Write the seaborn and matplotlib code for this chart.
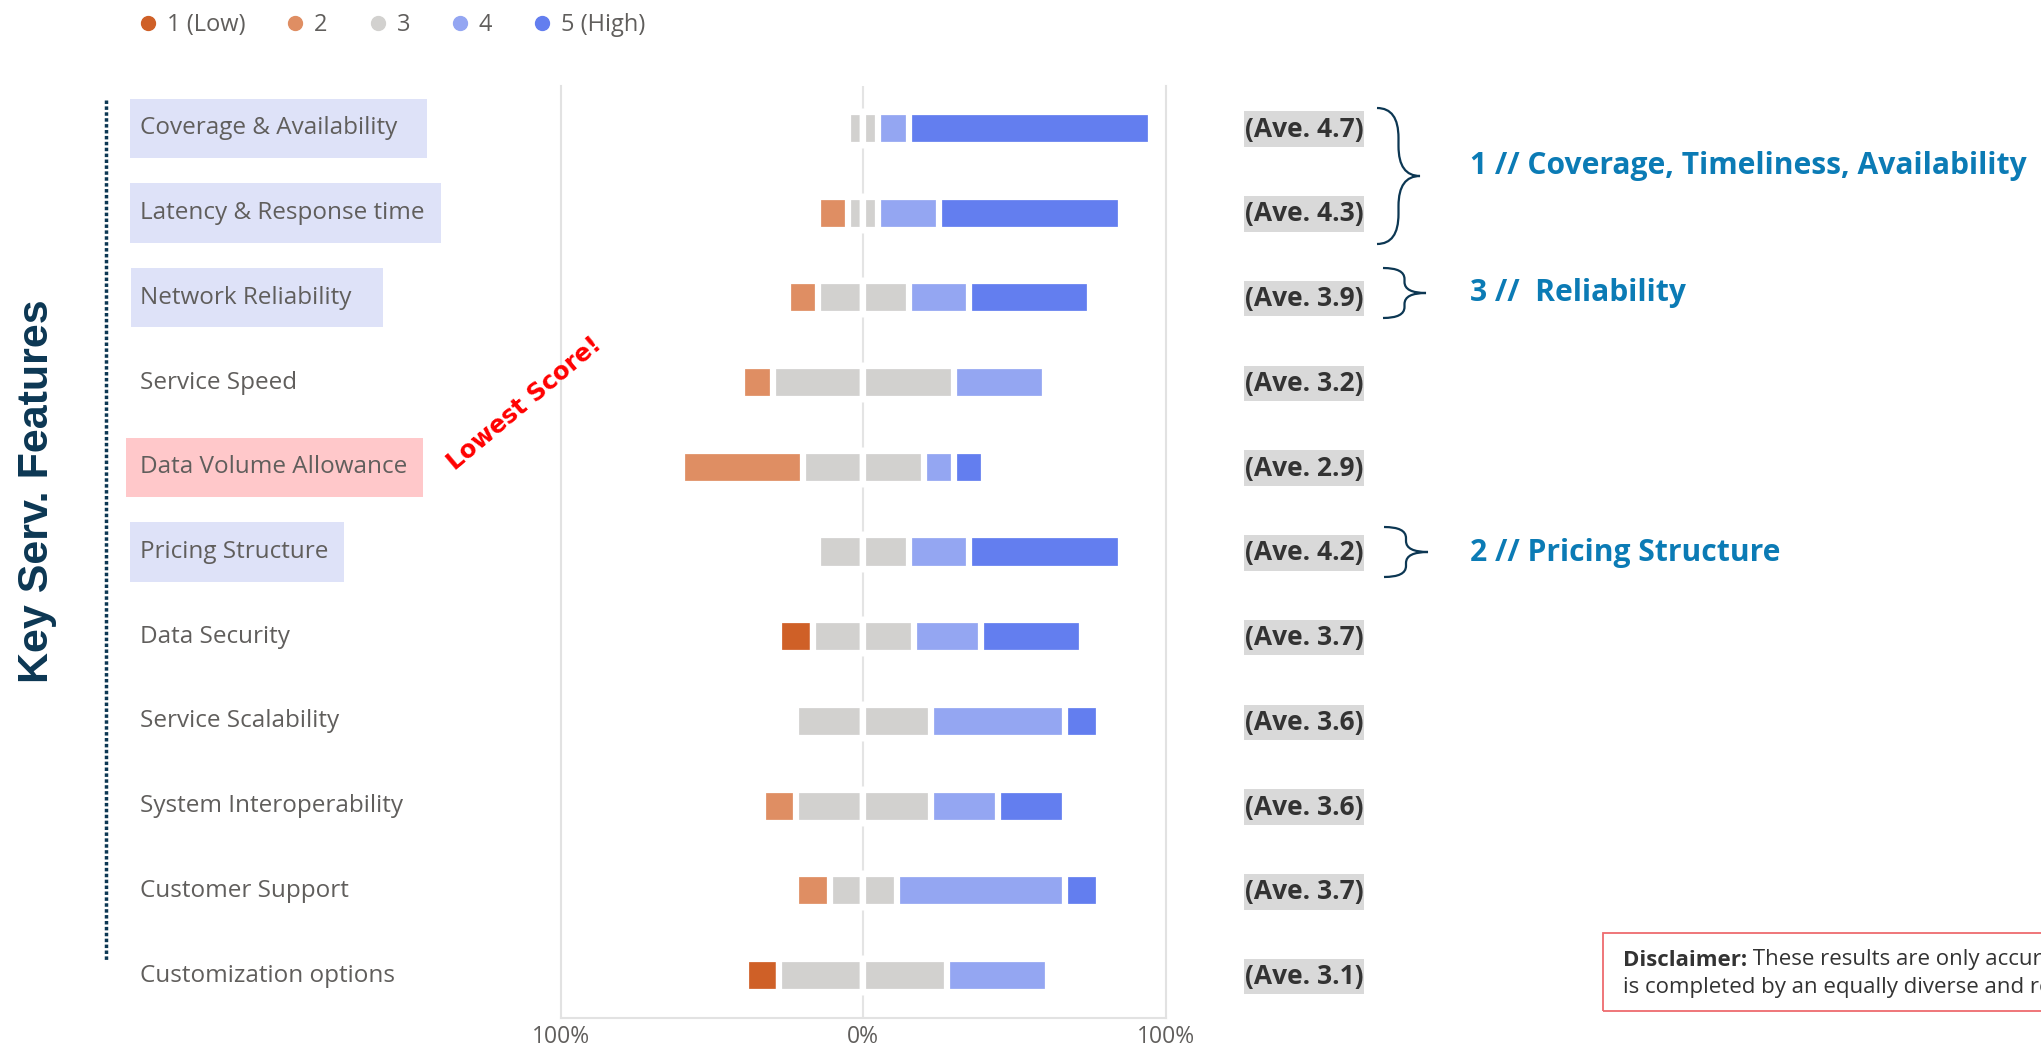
import pandas as pd
import matplotlib
matplotlib.use("Agg")
import matplotlib.pyplot as plt
import matplotlib.transforms as mtransforms
from matplotlib.lines import Line2D
from matplotlib.patches import Rectangle, PathPatch
from matplotlib.path import Path
import seaborn as sns

# Survey data (share of answers per score, %)
features = [
    "Coverage & Availability", "Latency & Response time", "Network Reliability",
    "Service Speed", "Data Volume Allowance", "Pricing Structure", "Data Security",
    "Service Scalability", "System Interoperability", "Customer Support",
    "Customization options",
]
score_1 = [0, 0, 0, 0, 0, 0, 11.1, 0, 0, 0, 11.1]
score_2 = [0, 10, 10, 10, 40, 0, 0, 0, 11.1, 11.1, 0]
score_3 = [10, 10, 30, 60, 40, 30, 33.3, 44.4, 44.4, 22.2, 55.6]
score_4 = [10, 20, 20, 30, 10, 20, 22.2, 44.4, 22.2, 55.6, 33.3]
score_5 = [80, 60, 40, 0, 10, 50, 33.3, 11.1, 22.2, 11.1, 0]
averages = ["4.7", "4.3", "3.9", "3.2", "2.9", "4.2", "3.7", "3.6", "3.6", "3.7", "3.1"]
legend_labels = ["1 (Low)", "2", "3", "4", "5 (High)"]
x_ticks = [-100, 0, 100]
x_tick_labels = ["100%", "0%", "100%"]

colors = ["#CF6027", "#DF8E63", "#D2D1CF", "#94A6F2", "#637EEF"]
W, H = 2041, 1049


def fx(x):
    return x / W


def fy(y):
    return 1 - y / H


def brace(fig, x0, x1, y_top, y_bot, y_tip, color="#0C3753"):
    xm = x0 + 0.5 * (x1 - x0)
    r = min(0.22 * (y_bot - y_top), 30)
    pts = [(x0, y_top), (xm, y_top), (xm, y_top + r),
           (xm, y_tip - r),
           (xm, y_tip), (x1, y_tip),
           (xm, y_tip), (xm, y_tip + r),
           (xm, y_bot - r),
           (xm, y_bot), (x0, y_bot)]
    codes = [Path.MOVETO, Path.CURVE3, Path.CURVE3, Path.LINETO,
             Path.CURVE3, Path.CURVE3, Path.CURVE3, Path.CURVE3,
             Path.LINETO, Path.CURVE3, Path.CURVE3]
    path = Path([(fx(a), fy(b)) for a, b in pts], codes)
    fig.add_artist(PathPatch(path, fill=False, ec=color, lw=1.6,
                             transform=fig.transFigure))


sns.set_theme(style="white")
plt.rcParams["font.family"] = ["Open Sans", "DejaVu Sans"]

df = pd.DataFrame({"feature": features, "s1": score_1, "s2": score_2,
                   "s3": score_3, "s4": score_4, "s5": score_5})
half = df["s3"] / 2
df["left_1"] = -(half + df["s2"] + df["s1"])
df["left_2"] = -(half + df["s2"])
df["left_3"] = -half
df["right_5"] = half + df["s4"] + df["s5"]
df["right_4"] = half + df["s4"]
df["right_3"] = half

fig = plt.figure(figsize=(W / 100, H / 100), dpi=100)
ax = fig.add_axes([fx(560.7), fy(1018), (1166 - 560.7) / W, (1018 - 86) / H])

# diverging stacked bars: longest layer first, shorter layers drawn on top
layers = [("left_1", 0), ("left_2", 1), ("left_3", 2),
          ("right_5", 4), ("right_4", 3), ("right_3", 2)]
for col, ci in layers:
    sns.barplot(data=df, x=col, y="feature", order=features, orient="h",
                color=colors[ci], saturation=1, width=0.39, errorbar=None,
                edgecolor="white", linewidth=4.5, ax=ax, zorder=3)

ax.set_xlim(-100, 100)
ax.set_ylim(10.5, -0.5)
ax.set_xticks(x_ticks)
ax.set_xticklabels(x_tick_labels, fontsize=16.5, color="#605E5C")
ax.tick_params(axis="x", length=0, pad=5)
ax.tick_params(axis="y", left=False, labelleft=False)
ax.set_xlabel("")
ax.set_ylabel("")
ax.axvline(0, color="#E4E4E4", lw=1.5, zorder=0)
for side in ["left", "right", "bottom"]:
    ax.spines[side].set_color("#E2E2E2")
    ax.spines[side].set_linewidth(1.5)
ax.spines["top"].set_visible(False)

trans = mtransforms.blended_transform_factory(fig.transFigure, ax.transData)

# highlighted feature labels
highlight = {0: ("#DEE2F8", 130, 427), 1: ("#DEE2F8", 130, 441),
             2: ("#DEE2F8", 131, 383), 4: ("#FFC8CA", 126, 423),
             5: ("#DEE2F8", 130, 344)}
for i, (fc, x0, x1) in highlight.items():
    ax.add_patch(Rectangle((fx(x0), i - 0.35), (x1 - x0) / W, 0.70,
                           transform=trans, fc=fc, ec="none", clip_on=False, zorder=0))

for i, name in enumerate(features):
    ax.text(fx(140), i, name, transform=trans, ha="left", va="center",
            fontsize=17.5, color="#605E5C")
    ax.add_patch(Rectangle((fx(1244), i - 0.2), 120 / W, 0.42, transform=trans,
                           fc="#D9D9D9", ec="none", clip_on=False, zorder=0))
    ax.text(fx(1304), i + 0.01, f"(Ave. {averages[i]})", transform=trans, ha="center",
            va="center", fontsize=19, fontweight="bold", color="#333333")

# left title and dotted divider
fig.text(fx(37), fy(491), "Key Serv. Features", rotation=90, ha="center", va="center",
         fontsize=31, fontweight="bold", color="#0C3753", family="Liberation Sans")
fig.add_artist(Line2D([fx(106), fx(106)], [fy(100), fy(961)], color="#0C3753",
                      lw=2.5, linestyle=(0, (1, 0.7)), transform=fig.transFigure))

fig.text(fx(524), fy(404), "Lowest Score!", rotation=40, rotation_mode="anchor",
         ha="center", va="center", fontsize=17.5, fontweight="bold", color="#FF0000",
         family="DejaVu Sans")

# group annotations on the right
brace(fig, 1377, 1420, 108, 244, 176)
brace(fig, 1383, 1426, 268, 318, 293)
brace(fig, 1384, 1428, 527, 577, 552)
blue = "#0B7BB5"
fig.text(fx(1470), fy(166), "1 // Coverage, Timeliness, Availability", ha="left",
         va="center", fontsize=21.6, fontweight="bold", color=blue)
fig.text(fx(1470), fy(293), "3 //  Reliability", ha="left", va="center",
         fontsize=21.6, fontweight="bold", color=blue)
fig.text(fx(1470), fy(553), "2 // Pricing Structure", ha="left", va="center",
         fontsize=21.6, fontweight="bold", color=blue)

# disclaimer box
fig.add_artist(Rectangle((fx(1603), fy(1011)), (2120 - 1603) / W, 78 / H,
                         transform=fig.transFigure, fill=False, ec="#EE6B6E", lw=1.3))
t1 = fig.text(fx(1623), fy(960), "Disclaimer:", ha="left", va="center",
              fontsize=16, fontweight="bold", color="#333333")
ax.annotate(" These results are only accurate if the survey", xy=(1, 0.5),
            xycoords=t1, ha="left", va="center", fontsize=16, color="#333333",
            annotation_clip=False)
fig.text(fx(1623), fy(988), "is completed by an equally diverse and representative sample.",
         ha="left", va="center", fontsize=16, color="#333333")

# legend
handles = [Line2D([], [], marker="o", linestyle="none", markersize=10,
                  markerfacecolor=c, markeredgecolor=c) for c in colors]
fig.legend(handles, legend_labels, loc="center left", bbox_to_anchor=(fx(136), fy(25)),
           ncol=5, frameon=False, prop={"family": "Open Sans", "size": 17},
           handlelength=1.0, handletextpad=0.3, columnspacing=1.62,
           borderpad=0, borderaxespad=0, labelcolor="#605E5C")

fig.savefig("out.png", dpi=100)
